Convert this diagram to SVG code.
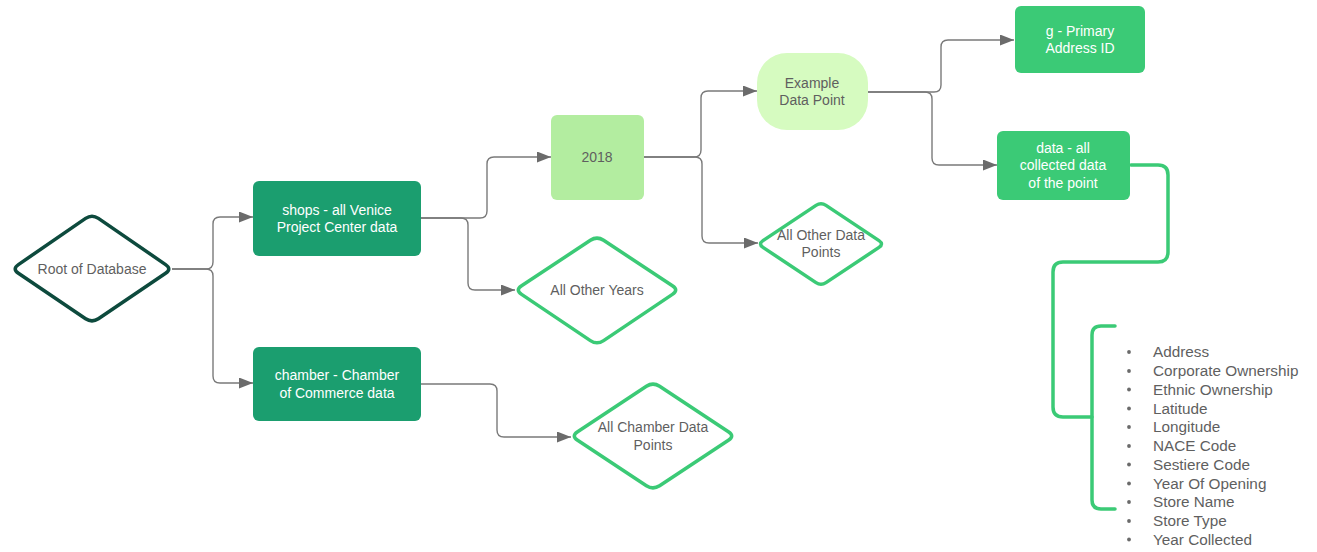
<svg xmlns="http://www.w3.org/2000/svg" width="1317" height="552" viewBox="0 0 1317 552">
  <defs>
    <marker id="arrow" markerUnits="userSpaceOnUse" markerWidth="15" markerHeight="12" refX="14" refY="5.5" orient="auto">
      <path d="M0,0 L14,5.5 L0,11 Z" fill="#6b6b6b"/>
    </marker>
    <style>
      .conn { fill: none; stroke: #7a7a7a; stroke-width: 1.4; marker-end: url(#arrow); }
      .lbl { font-family: "Liberation Sans", Arial, sans-serif; font-size: 14px; text-anchor: middle; }
      .white { fill: #ffffff; }
      .grey { fill: #5f5f5f; }
      .dark { fill: #1b9e6f; }
      .mid { fill: #3bca76; }
      .dia { fill: #ffffff; stroke: #3bca76; stroke-width: 3.5; stroke-linejoin: round; }
      .brace { fill: none; stroke: #3bca76; stroke-width: 3.5; stroke-linecap: round; }
      .item { font-family: "Liberation Sans", Arial, sans-serif; font-size: 15.3px; fill: #5f5f5f; }
    </style>
  </defs>
  <rect width="1317" height="552" fill="#ffffff"/>

  <!-- connectors -->
  <g id="connectors">
    <path class="conn" d="M172,269 H206 Q213,269 213,262 V224 Q213,217 220,217 H253"/>
    <path class="conn" d="M172,269 H206 Q213,269 213,276 V376 Q213,383 220,383 H253"/>
    <path class="conn" d="M421,218 H480 Q487,218 487,211 V164 Q487,157 494,157 H551"/>
    <path class="conn" d="M421,218 H461 Q468,218 468,225 V283 Q468,290 475,290 H515"/>
    <path class="conn" d="M421,384 H490 Q497,384 497,391 V430 Q497,437 504,437 H571"/>
    <path class="conn" d="M644,157 H694 Q701,157 701,150 V98 Q701,91 708,91 H757"/>
    <path class="conn" d="M644,157 H695 Q702,157 702,164 V236 Q702,243 709,243 H758"/>
    <path class="conn" d="M868,92 H934 Q941,92 941,85 V47 Q941,40 948,40 H1014"/>
    <path class="conn" d="M868,92 H925 Q932,92 932,99 V158 Q932,165 939,165 H997"/>
    <!-- bracket link to the attribute list -->
    <path class="brace" d="M1131,165 H1158 Q1168,165 1168,175 V252 Q1168,262 1158,262 H1063 Q1053,262 1053,272 V407 Q1053,417 1063,417 H1092"/>
    <path class="brace" d="M1115,326 H1101 Q1092,326 1092,335 V500 Q1092,509 1101,509 H1115"/>
  </g>

  <g id="root">
    <path d="M98.4,218.4 L165.6,264.6 Q172,269 165.6,273.3 L98.4,318.7 Q92,323 85.6,318.7 L18.4,273.3 Q12,269 18.4,264.6 L85.6,218.4 Q92,214 98.4,218.4 Z" fill="#ffffff" stroke="#0d4a3d" stroke-width="3.5" stroke-linejoin="round"/>
    <text class="lbl grey" x="92" y="274">Root of Database</text>
  </g>

  <g id="shops">
    <rect class="dark" x="253" y="181" width="168" height="75" rx="6"/>
    <text class="lbl white" x="337" y="215">shops - all Venice</text>
    <text class="lbl white" x="337" y="232">Project Center data</text>
  </g>

  <g id="chamber">
    <rect class="dark" x="253" y="347" width="168" height="74" rx="6"/>
    <text class="lbl white" x="337" y="380">chamber - Chamber</text>
    <text class="lbl white" x="337" y="398">of Commerce data</text>
  </g>

  <g id="year2018">
    <rect x="551" y="115" width="93" height="85" rx="6" fill="#b3eda0"/>
    <text class="lbl grey" x="597" y="162">2018</text>
  </g>

  <g id="other-years">
    <path class="dia" d="M603.6,240.3 L672.4,285.7 Q679,290 672.4,294.4 L603.6,340.6 Q597,345 590.4,340.6 L521.6,294.4 Q515,290 521.6,285.7 L590.4,240.3 Q597,236 603.6,240.3 Z"/>
    <text class="lbl grey" x="597" y="295">All Other Years</text>
  </g>

  <g id="chamber-points">
    <path class="dia" d="M659.6,386.3 L728.4,431.7 Q735,436 728.4,440.3 L659.6,485.7 Q653,490 646.4,485.7 L577.6,440.3 Q571,436 577.6,431.7 L646.4,386.3 Q653,382 659.6,386.3 Z"/>
    <text class="lbl grey" x="653" y="432">All Chamber Data</text>
    <text class="lbl grey" x="653" y="450">Points</text>
  </g>

  <g id="example-point">
    <rect x="757" y="53" width="111" height="77" rx="30" fill="#d6fbc0"/>
    <text class="lbl grey" x="812" y="88">Example</text>
    <text class="lbl grey" x="812" y="105">Data Point</text>
  </g>

  <g id="other-points">
    <path class="dia" d="M826,205.4 L879,240.6 Q884,244 879,247.4 L826,282.6 Q821,286 816,282.6 L763,247.4 Q758,244 763,240.6 L816,205.4 Q821,202 826,205.4 Z"/>
    <text class="lbl grey" x="821" y="240">All Other Data</text>
    <text class="lbl grey" x="821" y="257">Points</text>
  </g>

  <g id="address-id">
    <rect class="mid" x="1015" y="6" width="130" height="67" rx="6"/>
    <text class="lbl white" x="1080" y="36">g - Primary</text>
    <text class="lbl white" x="1080" y="53">Address ID</text>
  </g>

  <g id="point-data">
    <rect class="mid" x="997" y="131" width="133" height="69" rx="6"/>
    <text class="lbl white" x="1063" y="153">data - all</text>
    <text class="lbl white" x="1063" y="170">collected data</text>
    <text class="lbl white" x="1063" y="188">of the point</text>
  </g>

  <g id="attributes">
    <g fill="#6a6a6a">
      <circle cx="1129" cy="352" r="1.9"/>
      <circle cx="1129" cy="371" r="1.9"/>
      <circle cx="1129" cy="389.5" r="1.9"/>
      <circle cx="1129" cy="408.5" r="1.9"/>
      <circle cx="1129" cy="427" r="1.9"/>
      <circle cx="1129" cy="446" r="1.9"/>
      <circle cx="1129" cy="464.5" r="1.9"/>
      <circle cx="1129" cy="483.5" r="1.9"/>
      <circle cx="1129" cy="502" r="1.9"/>
      <circle cx="1129" cy="521" r="1.9"/>
      <circle cx="1129" cy="539.5" r="1.9"/>
    </g>
    <text class="item" x="1153" y="357">Address</text>
    <text class="item" x="1153" y="376">Corporate Ownership</text>
    <text class="item" x="1153" y="394.5">Ethnic Ownership</text>
    <text class="item" x="1153" y="413.5">Latitude</text>
    <text class="item" x="1153" y="432">Longitude</text>
    <text class="item" x="1153" y="451">NACE Code</text>
    <text class="item" x="1153" y="469.5">Sestiere Code</text>
    <text class="item" x="1153" y="488.5">Year Of Opening</text>
    <text class="item" x="1153" y="507">Store Name</text>
    <text class="item" x="1153" y="526">Store Type</text>
    <text class="item" x="1153" y="544.5">Year Collected</text>
  </g>
</svg>
